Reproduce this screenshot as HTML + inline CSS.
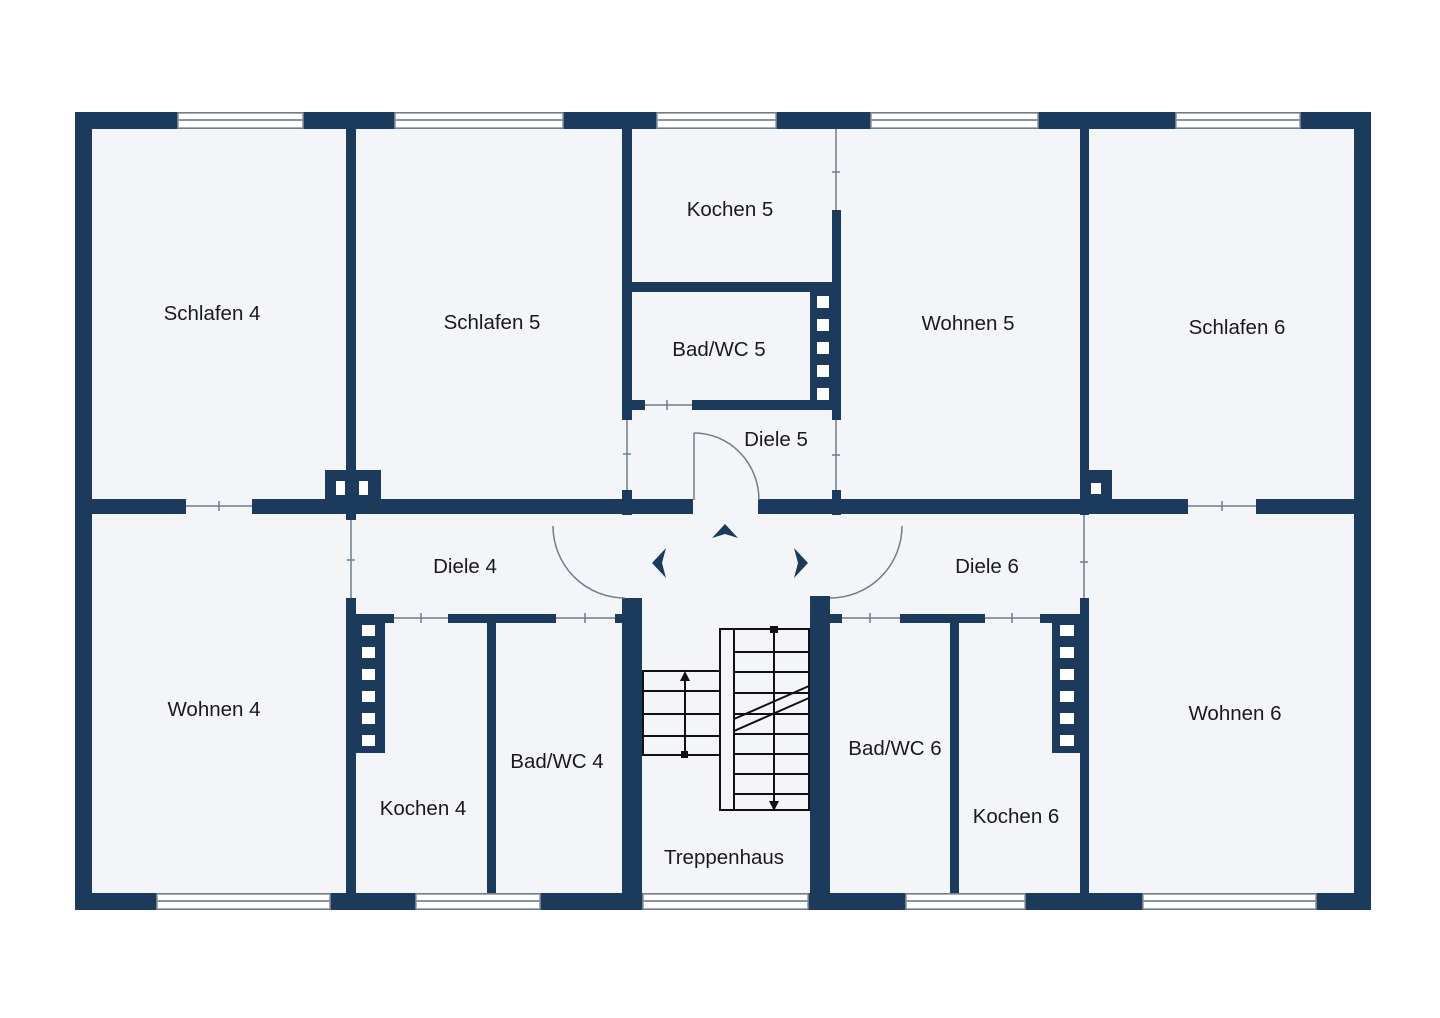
<!DOCTYPE html>
<html><head><meta charset="utf-8"><style>
html,body{margin:0;padding:0;background:#fff;}
svg{display:block}
text{font-family:"Liberation Sans",sans-serif;font-size:20.5px;fill:#1a1a1a;text-anchor:middle}
</style></head><body>
<svg width="1440" height="1018" viewBox="0 0 1440 1018" xmlns="http://www.w3.org/2000/svg">
<rect x="75" y="112" width="1296" height="798" fill="#f3f5f8"/>
<g fill="#1b3a5c">
<rect x="75" y="112" width="1296" height="17"/>
<rect x="75" y="893" width="1296" height="17"/>
<rect x="75" y="112" width="17" height="798"/>
<rect x="1354" y="112" width="17" height="798"/>
<rect x="346" y="129" width="10" height="391"/>
<rect x="346" y="598" width="10" height="295"/>
<rect x="325" y="470" width="56" height="30"/>
<rect x="92" y="499" width="94" height="15"/>
<rect x="252" y="499" width="441" height="15"/>
<rect x="758" y="499" width="330" height="15"/>
<rect x="1088" y="499" width="100" height="15"/>
<rect x="1256" y="499" width="98" height="15"/>
<rect x="622" y="129" width="10" height="291"/>
<rect x="622" y="490" width="10" height="25"/>
<rect x="832" y="210" width="9" height="210"/>
<rect x="832" y="490" width="9" height="25"/>
<rect x="632" y="282" width="200" height="10"/>
<rect x="632" y="400" width="13" height="10"/>
<rect x="692" y="400" width="140" height="10"/>
<rect x="810" y="292" width="22" height="113"/>
<rect x="1080" y="129" width="9" height="386"/>
<rect x="1088" y="470" width="24" height="30"/>
<rect x="1080" y="598" width="9" height="295"/>
<rect x="622" y="598" width="20" height="295"/>
<rect x="810" y="596" width="20" height="297"/>
<rect x="346" y="614" width="48" height="9"/>
<rect x="448" y="614" width="108" height="9"/>
<rect x="615" y="614" width="17" height="9"/>
<rect x="487" y="623" width="9" height="270"/>
<rect x="356" y="614" width="29" height="139"/>
<rect x="830" y="614" width="12" height="9"/>
<rect x="900" y="614" width="85" height="9"/>
<rect x="1040" y="614" width="40" height="9"/>
<rect x="950" y="623" width="9" height="270"/>
<rect x="1052" y="614" width="28" height="139"/>
</g>
<g fill="#fff">
<rect x="336" y="481" width="9" height="14"/><rect x="359" y="481" width="9" height="14"/>
<rect x="1091" y="483" width="10" height="11"/>
<rect x="817" y="296" width="12" height="12"/><rect x="817" y="319" width="12" height="12"/><rect x="817" y="342" width="12" height="12"/><rect x="817" y="365" width="12" height="12"/><rect x="817" y="388" width="12" height="12"/>
<rect x="362" y="625" width="13" height="11"/><rect x="362" y="647" width="13" height="11"/><rect x="362" y="669" width="13" height="11"/><rect x="362" y="691" width="13" height="11"/><rect x="362" y="713" width="13" height="11"/><rect x="362" y="735" width="13" height="11"/>
<rect x="1060" y="625" width="14" height="11"/><rect x="1060" y="647" width="14" height="11"/><rect x="1060" y="669" width="14" height="11"/><rect x="1060" y="691" width="14" height="11"/><rect x="1060" y="713" width="14" height="11"/><rect x="1060" y="735" width="14" height="11"/>
</g>
<g fill="#fff" stroke="#8a94a0" stroke-width="1.5">
<rect x="178" y="113" width="125" height="15"/><rect x="395" y="113" width="168" height="15"/><rect x="657" y="113" width="119" height="15"/><rect x="871" y="113" width="167" height="15"/><rect x="1176" y="113" width="124" height="15"/>
<rect x="157" y="894" width="173" height="15"/><rect x="416" y="894" width="124" height="15"/><rect x="643" y="894" width="165" height="15"/><rect x="906" y="894" width="119" height="15"/><rect x="1143" y="894" width="173" height="15"/>
</g>
<g stroke="#8a94a0" stroke-width="2">
<line x1="178" y1="120" x2="303" y2="120"/><line x1="395" y1="120" x2="563" y2="120"/><line x1="657" y1="120" x2="776" y2="120"/><line x1="871" y1="120" x2="1038" y2="120"/><line x1="1176" y1="120" x2="1300" y2="120"/>
<line x1="157" y1="901" x2="330" y2="901"/><line x1="416" y1="901" x2="540" y2="901"/><line x1="643" y1="901" x2="808" y2="901"/><line x1="906" y1="901" x2="1025" y2="901"/><line x1="1143" y1="901" x2="1316" y2="901"/>
</g>
<g stroke="#6f7d8a" stroke-width="1.5" fill="none">
<line x1="186" y1="506" x2="252" y2="506"/><line x1="219" y1="501" x2="219" y2="511"/>
<line x1="1188" y1="506" x2="1256" y2="506"/><line x1="1222" y1="501" x2="1222" y2="511"/>
<line x1="351" y1="520" x2="351" y2="598"/><line x1="347" y1="560" x2="355" y2="560"/>
<line x1="627" y1="420" x2="627" y2="490"/><line x1="623" y1="454" x2="631" y2="454"/>
<line x1="836" y1="129" x2="836" y2="210"/><line x1="832" y1="172" x2="840" y2="172"/>
<line x1="836" y1="420" x2="836" y2="490"/><line x1="832" y1="455" x2="840" y2="455"/>
<line x1="1084" y1="515" x2="1084" y2="598"/><line x1="1080" y1="562" x2="1088" y2="562"/>
<line x1="645" y1="405" x2="692" y2="405"/><line x1="667" y1="400" x2="667" y2="410"/>
<line x1="394" y1="618" x2="448" y2="618"/><line x1="421" y1="613" x2="421" y2="623"/>
<line x1="556" y1="618" x2="615" y2="618"/><line x1="585" y1="613" x2="585" y2="623"/>
<line x1="842" y1="618" x2="900" y2="618"/><line x1="870" y1="613" x2="870" y2="623"/>
<line x1="985" y1="618" x2="1040" y2="618"/><line x1="1012" y1="613" x2="1012" y2="623"/>
<line x1="694" y1="500" x2="694" y2="433"/>
<path d="M694 433 A65 67 0 0 1 759 500"/>
<path d="M553 526 A72 72 0 0 0 625 598"/>
<path d="M902 526 A72 72 0 0 1 830 598"/>
</g>
<g fill="#1b3a5c">
<path d="M666 548 L652 563 L666 578 L662 563Z"/>
<path d="M794 548 L808 563 L794 578 L798 563Z"/>
<path d="M712 538 L725 524 L738 538 L725 534Z"/>
</g>
<g stroke="#111" stroke-width="2" fill="none">
<rect x="643" y="671" width="77" height="84"/>
<line x1="643" y1="691" x2="720" y2="691"/><line x1="643" y1="714" x2="720" y2="714"/><line x1="643" y1="736" x2="720" y2="736"/>
<rect x="720" y="629" width="89" height="181"/>
<line x1="734" y1="629" x2="734" y2="810"/>
<line x1="734" y1="652" x2="809" y2="652"/><line x1="734" y1="672" x2="809" y2="672"/><line x1="734" y1="693" x2="809" y2="693"/><line x1="734" y1="714" x2="809" y2="714"/><line x1="734" y1="734" x2="809" y2="734"/><line x1="734" y1="754" x2="809" y2="754"/><line x1="734" y1="774" x2="809" y2="774"/><line x1="734" y1="794" x2="809" y2="794"/>
<line x1="734" y1="719" x2="809" y2="686"/><line x1="734" y1="731" x2="809" y2="698"/>
<line x1="685" y1="678" x2="685" y2="755"/>
<line x1="774" y1="629" x2="774" y2="803"/>
</g>
<g fill="#111">
<path d="M680 681 L685 671 L690 681Z"/><rect x="681" y="751" width="7" height="7"/>
<rect x="770" y="626" width="8" height="7"/><path d="M769 801 L774 811 L779 801Z"/>
</g>
<text x="212" y="320">Schlafen 4</text>
<text x="492" y="329">Schlafen 5</text>
<text x="730" y="216">Kochen 5</text>
<text x="719" y="356">Bad/WC 5</text>
<text x="968" y="330">Wohnen 5</text>
<text x="1237" y="334">Schlafen 6</text>
<text x="776" y="446">Diele 5</text>
<text x="465" y="573">Diele 4</text>
<text x="987" y="573">Diele 6</text>
<text x="214" y="716">Wohnen 4</text>
<text x="1235" y="720">Wohnen 6</text>
<text x="557" y="768">Bad/WC 4</text>
<text x="895" y="755">Bad/WC 6</text>
<text x="423" y="815">Kochen 4</text>
<text x="1016" y="823">Kochen 6</text>
<text x="724" y="864">Treppenhaus</text>
</svg>
</body></html>
